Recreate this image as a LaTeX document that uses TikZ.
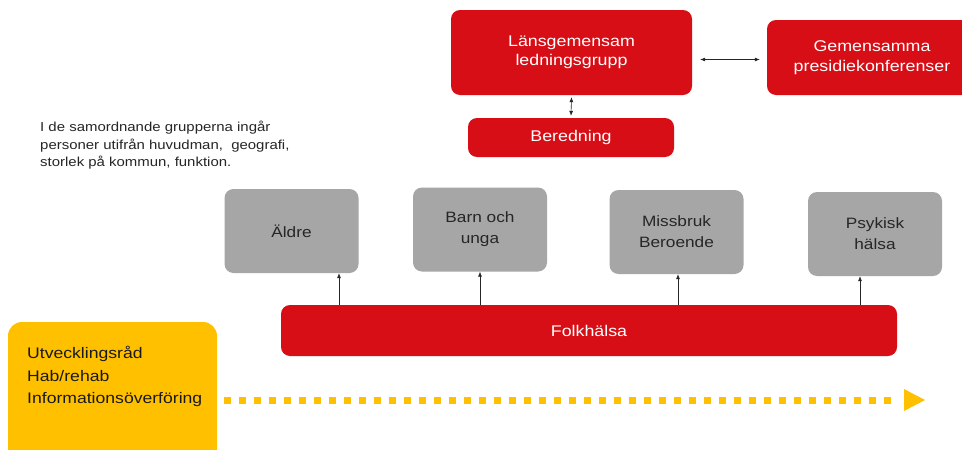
\documentclass[tikz,border=0pt]{standalone}
\usepackage{fontspec}
\setmainfont{Liberation Sans}[FakeStretch=1.15]
\usetikzlibrary{arrows.meta}
\definecolor{myred}{HTML}{D80E16}
\definecolor{mygray}{HTML}{A6A6A6}
\definecolor{myyellow}{HTML}{FFC000}
\tikzset{
  redbox/.style={fill=myred, draw=none, rounded corners=9pt, text=white, align=center, font=\fontsize{15.5}{19.5}\selectfont, inner sep=0pt},
  graybox/.style={fill=mygray, draw=none, rounded corners=9pt, text=black!85, align=center, font=\fontsize{15}{21}\selectfont, inner sep=0pt, minimum width=134pt, minimum height=84pt},
  conn/.style={line width=0.6pt, black!85, -{Latex[length=5pt,width=4pt]}},
  dconn/.style={line width=0.6pt, black!85, {Latex[length=5pt,width=4pt]}-{Latex[length=5pt,width=4pt]}},
}
\begin{document}
\begin{tikzpicture}[x=1pt,y=-1pt]
\clip (0,0) rectangle (962,450);
\fill[white] (0,0) rectangle (962,450);
% top red boxes
\node[redbox, minimum width=241pt, minimum height=85pt] (lans) at (571.5,52.5) {Länsgemensam\\ledningsgrupp};
\node[redbox, minimum width=210pt, minimum height=75pt] (gem) at (872,57.5) {Gemensamma\\presidiekonferenser};
\node[redbox, minimum width=206pt, minimum height=39pt] (bered) at (571,137.5) {Beredning};
\draw[dconn] (lans.east) ++(8,7) coordinate (a1) -- ([xshift=-7pt]gem.west |- a1);
\draw[dconn] ([yshift=-2pt]lans.south) -- ([yshift=2pt]bered.north);
% explanatory text
\node[anchor=north west, align=left, inner sep=0pt, font=\fontsize{13}{17.5}\selectfont, text=black!85] (info) at (40,121)
  {I de samordnande grupperna ingår\\personer utifrån huvudman,\ \ geografi,\\storlek på kommun, funktion.};
% gray boxes
\node[graybox] (aldre) at (291.5,231) {Äldre};
\node[graybox] (barn) at (480,229.5) {Barn och\\unga};
\node[graybox] (miss) at (676.5,232) {Missbruk\\Beroende};
\node[graybox] (psyk) at (875,234) {Psykisk\\hälsa};
% Folkhälsa
\node[redbox, minimum width=616pt, minimum height=51pt] (folk) at (589,330.5) {Folkhälsa};
\draw[conn] (folk.north -| 339,0) -- (aldre.south -| 339,0);
\draw[conn] (folk.north -| 480,0) -- (barn.south -| 480,0);
\draw[conn] (folk.north -| 678,0) -- (miss.south -| 678,0);
\draw[conn] (folk.north -| 860,0) -- (psyk.south -| 860,0);
% yellow box
\node[fill=myyellow, rounded corners=14pt, minimum width=209pt, minimum height=150pt, inner sep=0pt] (utv) at (112.5,397) {};
\node[anchor=north west, align=left, inner sep=0pt, font=\fontsize{15.3}{22.5}\selectfont, text=black!90] (utvtext) at (27,346)
  {Utvecklingsråd\\Hab/rehab\\Informationsöverföring};
\coordinate (ds) at (224,400);
\coordinate (de) at (897,400);
\draw[myyellow, line width=7pt, dash pattern=on 7pt off 8pt] (ds) -- (de);
\fill[myyellow] (de) ++(7,-11) -- ++(21,11) -- ++(-21,11) -- cycle;
\end{tikzpicture}
\end{document}
